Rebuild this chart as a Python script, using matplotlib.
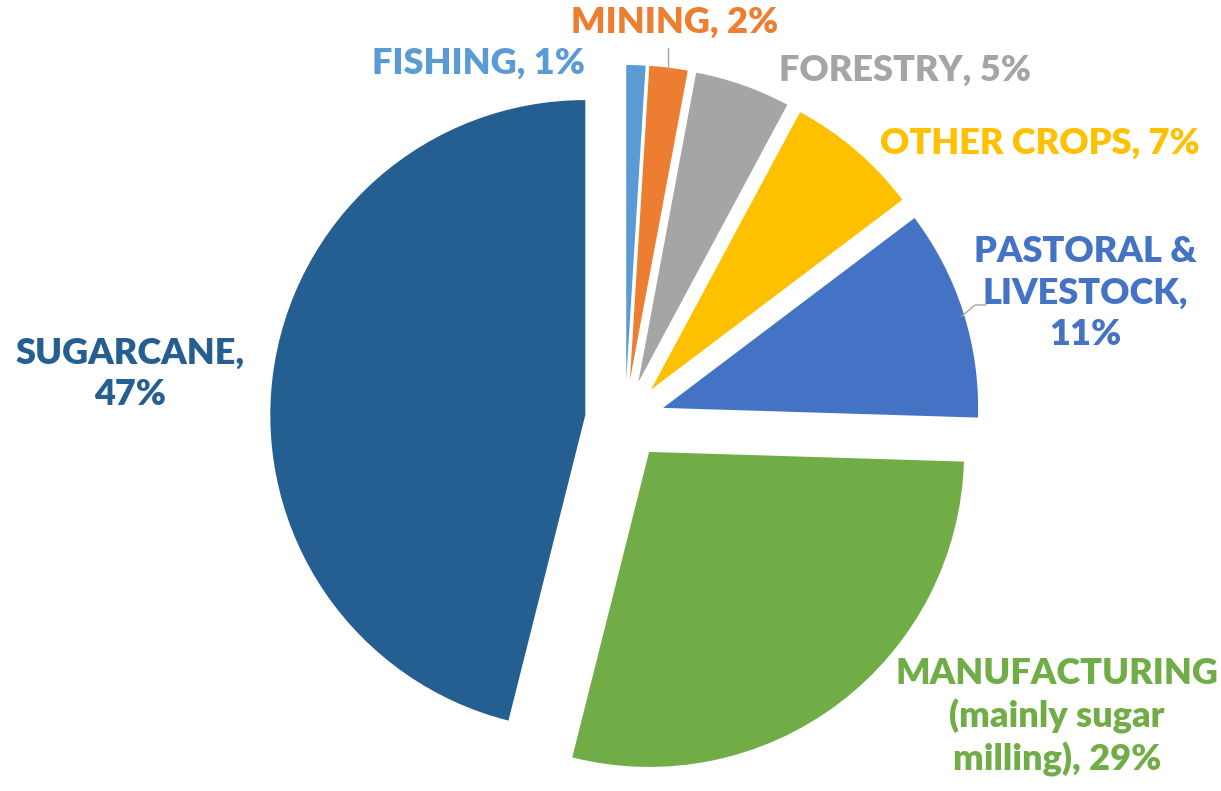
import matplotlib
matplotlib.use("Agg")
import matplotlib.pyplot as plt

# slices, clockwise from 12 o'clock
labels = ["FISHING, 1%", "MINING, 2%", "FORESTRY, 5%", "OTHER CROPS, 7%",
          "PASTORAL &\nLIVESTOCK,\n11%", "MANUFACTURING\n(mainly sugar\nmilling), 29%",
          "SUGARCANE,\n47%"]
values = [1, 2, 5, 7, 11, 29, 47]
colors = ["#5B9BD5", "#ED7D31", "#A5A5A5", "#FFC000", "#4472C4", "#70AD47", "#255E91"]

W, H = 1221, 791
# label centres in pixel coords (y down)
label_pos = [(478, 63), (675, 22), (905, 70), (1040, 143),
             (1085, 293), (1057, 717), (130, 374)]

fig = plt.figure(figsize=(W / 100, H / 100), dpi=100)
ax = fig.add_axes([0, 0, 1, 1])

radius = 315
wedges, _ = ax.pie(values, colors=colors, startangle=90, counterclock=False,
                   radius=radius, center=(625, H - 420), explode=[40] * len(values),
                   wedgeprops=dict(linewidth=0), frame=True)
ax.set_xlim(0, W)
ax.set_ylim(0, H)
ax.set_aspect("equal")
ax.axis("off")

for lab, (x, y), c in zip(labels, label_pos, colors):
    ax.text(x, H - y, lab, color=c, fontsize=26, fontweight="heavy",
            family="Lato", ha="center", va="center", linespacing=1.3)

# leader lines
ax.plot([668, 668], [H - 48, H - 70], color="#A5A5A5", lw=1)
ax.plot([962, 975, 986], [H - 316, H - 305, H - 305], color="#A5A5A5", lw=1)

fig.savefig("out.png", dpi=100)
